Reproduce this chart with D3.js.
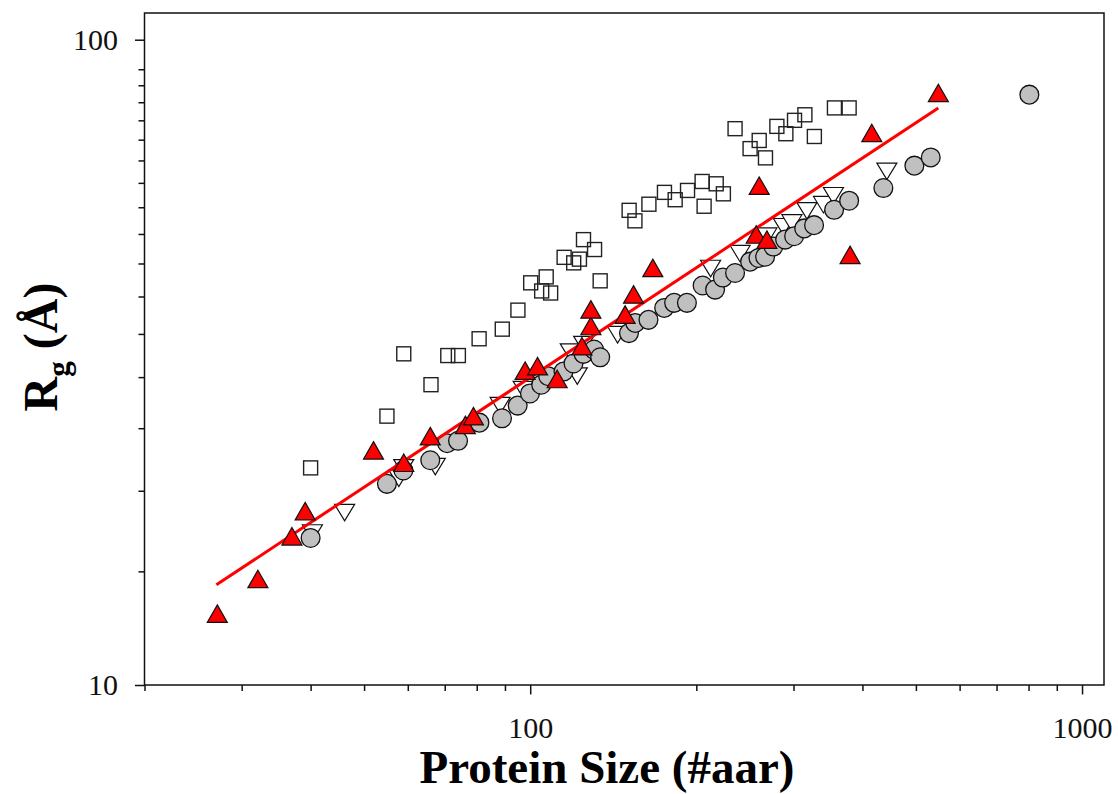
<!DOCTYPE html>
<html>
<head>
<meta charset="utf-8">
<script src="https://cdn.jsdelivr.net/npm/d3@7"></script>
<style>
  html, body { margin: 0; padding: 0; background: #fff; }
  svg { display: block; }
</style>
</head>
<body>
<svg id="chart" width="1118" height="794"></svg>
<script>
// ---------- DATA (protein size in #aar, Rg in Å) ----------
const squaresN  = [40,55,59,66.1,70.9,74.1,80.8,89,95,100.2,104.9,106.9,108.9,115.2,119.9,122.8,124.9,130.8,133.9,151.1,154.8,164.1,175.1,183.1,192.8,204.9,206.6,217.3,223.9,235.1,250.3,260,266.9,279.9,290.6,301.3,314.6,327.3,355.9,378.4];
const squaresRg = [21.7,26.1,32.6,29.2,32.4,32.4,34.4,35.6,38.1,42.0,40.8,42.9,40.5,46.0,45.1,45.7,49.0,47.3,42.3,54.4,52.4,55.6,58.0,56.5,58.4,60.3,55.2,59.8,57.7,72.8,67.8,69.8,65.6,73.4,71.5,75.0,76.5,70.8,78.4,78.4];

const downTriN  = [40.3,46.1,57.8,59,67.3,88.2,97.1,118.2,121.7,125,144,212.3,240.1,268.5,287.7,298,317.3,340,354.4,442.9];
const downTriRg = [17.2,18.5,20.9,21.7,21.8,27.1,28.7,32.8,30.1,33.7,34.9,44.2,46.6,49.6,51.3,52.0,54.3,55.5,57.3,62.5];

const circlesN  = [40,55,58.9,65.9,70.7,74,80.9,88.9,94.9,99.9,104.7,107.8,114.9,119.8,124.9,130.5,133.9,151,155,163.8,174.9,182.3,192.3,205.3,216.3,223.4,235.1,250.3,259.2,266.5,275.9,289.7,300.8,313.7,326.9,355.4,378.4,436.5,496.8,531.9,802.7];
const circlesRg = [16.9,20.5,21.5,22.3,23.7,23.9,25.5,25.9,27.1,28.3,29.2,30.1,30.6,31.5,32.6,33.1,32.2,35.1,36.4,36.8,38.4,39.1,39.1,41.6,41.0,42.8,43.5,45.3,45.9,46.1,47.8,49.0,49.6,51.0,51.6,54.5,56.3,58.9,63.8,65.7,82.2];

const upTriN  = [27.1,32.1,37,39.1,52,59,65.9,76.3,78.9,97.9,103.1,111.9,124.1,128.8,128.8,148.6,153.9,166.8,256.8,268.5,260,379.9,415.9,549.1];
const upTriRg = [12.9,14.6,17.0,18.6,23.1,22.1,24.3,25.3,26.1,30.7,31.2,29.8,33.5,36.0,38.2,37.5,40.3,44.3,49.9,49.0,59.4,46.4,71.7,82.7];

// power-law fit line end points
const fitN  = [27, 549];
const fitRg = [14.3, 78.4];

// ticks
const xMajorTicks = [100, 1000];
const xMinorTicks = [20,30,40,50,60,70,80,90,200,300,400,500,600,700,800,900];
const yMajorTicks = [10, 100];
const yMinorTicks = [15,20,25,30,35,40,45,50,55,60,65,70,75,80,85,90];

const xTitle = "Protein Size (#aar)";

// ---------- LAYOUT ----------
const L = 144.5, R = 1104, T = 13, B = 685;
const svg = d3.select("#chart");
const FONT = "'Liberation Serif', 'Times New Roman', Times, serif";

const x = d3.scaleLog().domain([20, 1096]).range([L, R]);
const y = d3.scaleLog().domain([10, 110]).range([B, T]);

const zip = (a, b) => a.map((v, i) => [v, b[i]]);

// ---------- AXES ----------
function styleAxis(g) {
  g.select(".domain").remove();
  g.selectAll(".tick line").attr("stroke", "#111").attr("stroke-width", 1.5);
  g.selectAll(".tick text").attr("font-family", FONT).attr("font-size", 30).attr("fill", "#111");
}

svg.append("g").attr("transform", `translate(0,${B})`)
  .call(d3.axisBottom(x).tickValues(xMinorTicks).tickSize(6).tickFormat(""))
  .call(styleAxis);
svg.append("g").attr("transform", `translate(0,${B})`)
  .call(d3.axisBottom(x).tickValues(xMajorTicks).tickSize(9.5).tickPadding(22.5).tickFormat(d3.format("d")))
  .call(styleAxis);

svg.append("g").attr("transform", `translate(${L},0)`)
  .call(d3.axisLeft(y).tickValues(yMinorTicks).tickSize(6).tickFormat(""))
  .call(styleAxis);
svg.append("g").attr("transform", `translate(${L},0)`)
  .call(d3.axisLeft(y).tickValues(yMajorTicks).tickSize(9.5).tickPadding(17).tickFormat(d3.format("d")))
  .call(styleAxis);

// frame
svg.append("rect")
  .attr("x", L).attr("y", T).attr("width", R - L).attr("height", B - T)
  .attr("fill", "none").attr("stroke", "#111").attr("stroke-width", 1.5);

// ---------- MARKS ----------
const plot = svg.append("g");

// open squares
plot.selectAll("rect.sq").data(zip(squaresN, squaresRg)).join("rect")
  .attr("class", "sq")
  .attr("x", d => x(d[0]) - 7).attr("y", d => y(d[1]) - 7)
  .attr("width", 14).attr("height", 14)
  .attr("fill", "none").attr("stroke", "#222").attr("stroke-width", 1.4);

// open down-triangles
const dw = 20, dh = 16.5;
plot.selectAll("path.dt").data(zip(downTriN, downTriRg)).join("path")
  .attr("class", "dt")
  .attr("d", d => {
    const cx = x(d[0]), cy = y(d[1]);
    return `M${cx - dw/2},${cy - dh/2}L${cx + dw/2},${cy - dh/2}L${cx},${cy + dh/2}Z`;
  })
  .attr("fill", "#fff").attr("stroke", "#111").attr("stroke-width", 1.2);

// gray circles
plot.selectAll("circle.ci").data(zip(circlesN, circlesRg)).join("circle")
  .attr("class", "ci")
  .attr("cx", d => x(d[0])).attr("cy", d => y(d[1])).attr("r", 9.4)
  .attr("fill", "#c0c0c0").attr("stroke", "#111").attr("stroke-width", 1.3);

// fit line
plot.append("path")
  .datum(zip(fitN, fitRg))
  .attr("d", d3.line().x(d => x(d[0])).y(d => y(d[1])))
  .attr("fill", "none").attr("stroke", "#ff0000").attr("stroke-width", 3);

// red up-triangles
const uw = 20, uh = 17.5;
plot.selectAll("path.ut").data(zip(upTriN, upTriRg)).join("path")
  .attr("class", "ut")
  .attr("d", d => {
    const cx = x(d[0]), cy = y(d[1]);
    return `M${cx},${cy - uh/2}L${cx + uw/2},${cy + uh/2}L${cx - uw/2},${cy + uh/2}Z`;
  })
  .attr("fill", "#ff0000").attr("stroke", "#111").attr("stroke-width", 1.2);

// ---------- TITLES ----------
svg.append("text")
  .attr("x", 607).attr("y", 783)
  .attr("text-anchor", "middle")
  .attr("font-family", FONT).attr("font-weight", "bold").attr("font-size", 47)
  .attr("fill", "#000")
  .text(xTitle);

const yt = svg.append("text")
  .attr("transform", "translate(57,347) rotate(-90)")
  .attr("text-anchor", "middle")
  .attr("font-family", FONT).attr("font-weight", "bold").attr("font-size", 48)
  .attr("fill", "#000");
yt.append("tspan").text("R");
yt.append("tspan").attr("dy", 12).attr("font-size", 31).text("g");
yt.append("tspan").attr("dy", -12).text(" (Å)");
</script>
</body>
</html>
